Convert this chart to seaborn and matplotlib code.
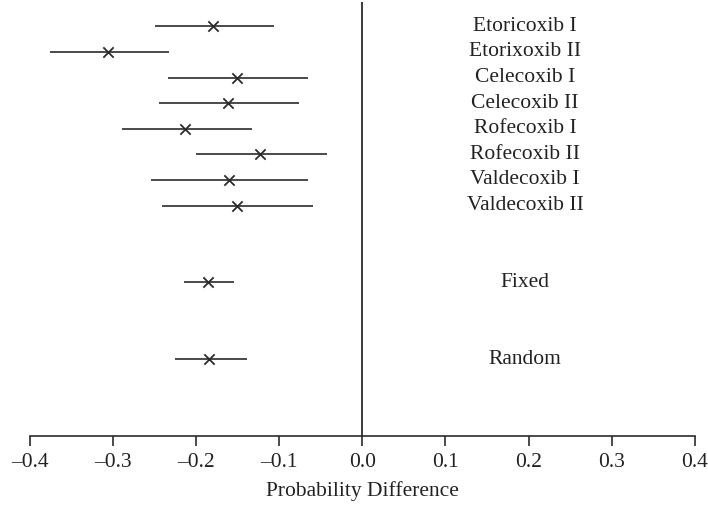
import matplotlib
matplotlib.use("Agg")
import matplotlib.pyplot as plt
import seaborn as sns
import pandas as pd

# Study-level and pooled estimates (probability difference with 95% interval)
studies = ["Etoricoxib I", "Etorixoxib II", "Celecoxib I", "Celecoxib II",
           "Rofecoxib I", "Rofecoxib II", "Valdecoxib I", "Valdecoxib II",
           "Fixed", "Random"]
estimate = [-0.180, -0.306, -0.151, -0.162, -0.213, -0.123, -0.161, -0.151, -0.186, -0.184]
lower = [-0.249, -0.376, -0.234, -0.245, -0.289, -0.200, -0.254, -0.241, -0.215, -0.225]
upper = [-0.106, -0.233, -0.065, -0.076, -0.133, -0.043, -0.065, -0.059, -0.155, -0.139]
row = [0, 1, 2, 3, 4, 5, 6, 7, 10, 13]
xticks = [-0.4, -0.3, -0.2, -0.1, 0.0, 0.1, 0.2, 0.3, 0.4]

df = pd.DataFrame({"study": studies, "est": estimate, "lo": lower, "hi": upper, "row": row})

sns.set_theme(style="ticks")
plt.rcParams["font.family"] = ["Liberation Serif", "DejaVu Serif"]

fig = plt.figure(figsize=(7.08, 5.05), dpi=100)
ax = fig.add_axes([30 / 708, (505 - 436) / 505, (694.7 - 30) / 708, (436 - 2) / 505])

ink = "#2b2b2b"
txt = "#222222"
fs = 15.5
ax.hlines(df["row"], df["lo"], df["hi"], color=ink, linewidth=1.2)
sns.scatterplot(data=df, x="est", y="row", marker="x", color=ink, s=55,
                linewidth=1.3, ax=ax, legend=False, zorder=3)
ax.axvline(0, color=ink, linewidth=1.3)

for _, r in df.iterrows():
    ax.text(0.196, r["row"], r["study"], ha="center", va="center",
            fontsize=fs, color=txt)

ax.set_xlim(-0.4, 0.4)
ax.set_ylim(16, -0.95)
ax.set_xticks(xticks)
ax.set_xticklabels([f"{t:.1f}".replace("-", "\u2013") for t in xticks])
ax.tick_params(axis="x", direction="out", length=7, width=1.2, color=ink,
               labelsize=fs, labelcolor=txt, pad=5)
ax.set_yticks([])
ax.set_ylabel("")
ax.set_xlabel("Probability Difference", fontsize=fs, color=txt, labelpad=7)

for side in ["left", "right", "top"]:
    ax.spines[side].set_visible(False)
ax.spines["bottom"].set_color(ink)
ax.spines["bottom"].set_linewidth(1.2)
ax.spines["bottom"].set_bounds(-0.4, 0.4)
ax.set_facecolor("white")
fig.patch.set_facecolor("white")

fig.savefig("out.png", dpi=100)
